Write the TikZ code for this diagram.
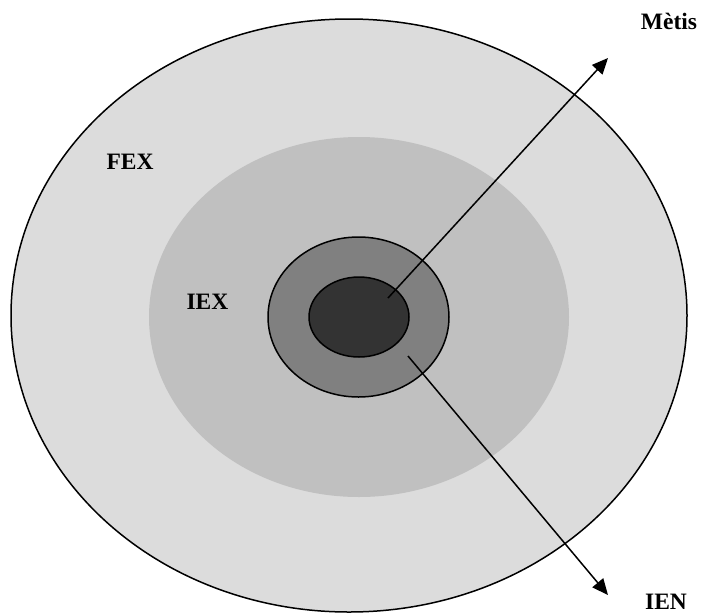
\documentclass[tikz,border=0pt]{standalone}
\usepackage{fontspec}
\setmainfont{Liberation Serif}
\usetikzlibrary{arrows.meta}
\definecolor{outerg}{RGB}{220,220,220}
\definecolor{midg}{RGB}{192,192,192}
\definecolor{ringg}{RGB}{128,128,128}
\definecolor{innerg}{RGB}{51,51,51}
\begin{document}
\begin{tikzpicture}[x=1pt,y=-1pt,
  ring/.style={draw=black,line width=1.5pt},
  lbl/.style={font=\fontsize{23.5}{26}\selectfont\bfseries,anchor=base,inner sep=0pt},
  arr/.style={line width=1.5pt,-{Triangle[length=16pt,width=14pt]}}]
\useasboundingbox (0,0) rectangle (704,614);
\fill[white] (0,0) rectangle (704,614);
\filldraw[ring,fill=outerg] (349,315.5) ellipse [x radius=338,y radius=296.5];
\fill[midg] (359,317) ellipse [x radius=210,y radius=180];
\filldraw[ring,fill=ringg] (358.5,317) ellipse [x radius=90.5,y radius=80];
\filldraw[ring,fill=innerg] (359,317) ellipse [x radius=50,y radius=40];
\coordinate (s1) at (388,298);
\coordinate (e1) at (608,58);
\coordinate (s2) at (408,356);
\coordinate (e2) at (608,595);
\draw[arr] (s1) -- (e1);
\draw[arr] (s2) -- (e2);
\node[lbl] (metis) at (669,29) {Mètis};
\node[lbl] (fex) at (130,169) {FEX};
\node[lbl] (iex) at (207.5,309) {IEX};
\node[lbl] (ien) at (666,609) {IEN};
\end{tikzpicture}
\end{document}
